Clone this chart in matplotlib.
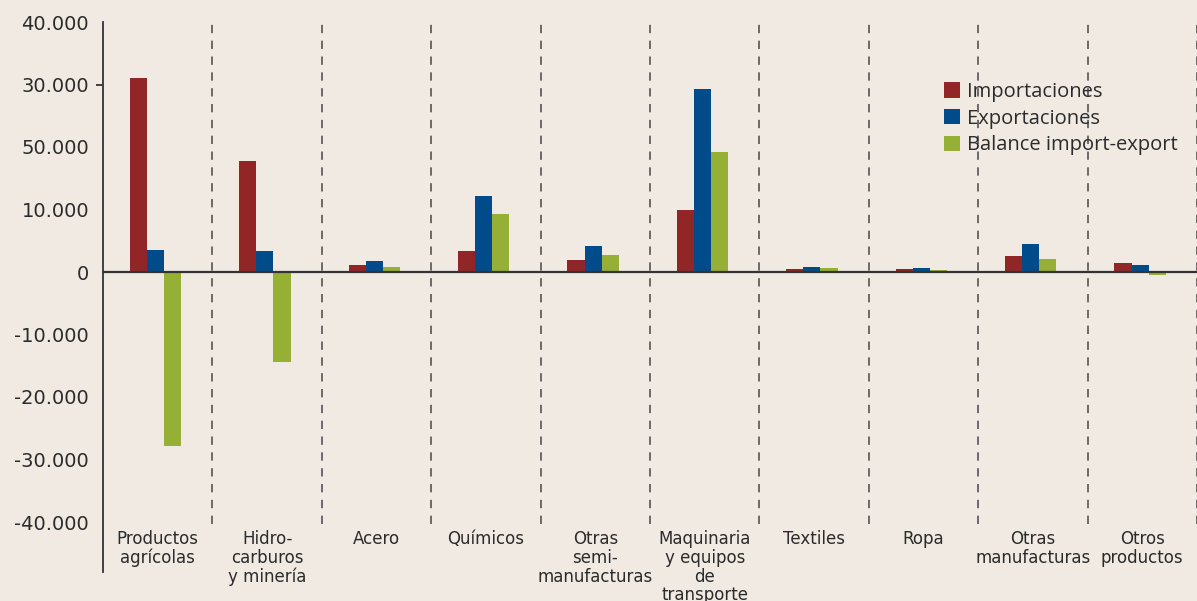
# Comercio por grupo de productos: importaciones, exportaciones y balance
import numpy as np
import matplotlib.pyplot as plt

categorias = [
    "Productos\nagrícolas",
    "Hidro-\ncarburos\ny minería",
    "Acero",
    "Químicos",
    "Otras\nsemi-\nmanufacturas",
    "Maquinaria\ny equipos\nde\ntransporte",
    "Textiles",
    "Ropa",
    "Otras\nmanufacturas",
    "Otros\nproductos",
]
importaciones = [31000, 17700, 1100, 3350, 1900, 9900, 480, 480, 2550, 1450]
exportaciones = [3500, 3350, 1750, 12150, 4150, 29250, 800, 640, 4450, 1100]
balance = [-27800, -14350, 800, 9250, 2700, 19200, 640, 320, 2050, -500]

yticks = [40000, 30000, 20000, 10000, 0, -10000, -20000, -30000, -40000]
ytick_labels = ["40.000", "30.000", "50.000", "10.000", "0",
                "-10.000", "-20.000", "-30.000", "-40.000"]

fondo = "#F0EAE3"
texto = "#2B2B2B"
colores = ["#922626", "#004C8A", "#95B034"]

fig = plt.figure(figsize=(11.97, 6.01), dpi=100, facecolor=fondo)
ax = fig.add_axes([103 / 1197, 1 - 572 / 601, 1 - 103 / 1197, 550 / 601])
ax.set_facecolor(fondo)

x = np.arange(len(categorias))
ancho = 0.157
series = [importaciones, exportaciones, balance]
nombres = ["Importaciones", "Exportaciones", "Balance import-export"]
for i, (vals, nom, col) in enumerate(zip(series, nombres, colores)):
    ax.bar(x + (i - 1) * ancho - 0.02, vals, ancho, color=col, label=nom, zorder=3)

# separadores punteados
ax.vlines(x + 0.5, -40300, 40300, colors="#555555", linestyles=(0, (5, 4.5)),
          linewidth=1.2, zorder=1)
ax.axhline(0, color="#333333", linewidth=1.6, zorder=4)

ax.set_xlim(-0.5, len(categorias) - 0.5)
ax.set_ylim(-48000, 40000)
ax.set_xticks([])
ax.set_yticks(yticks)
ax.set_yticklabels(ytick_labels, fontsize=14, color=texto, family="DejaVu Sans")
ax.tick_params(axis="y", length=5, width=1.3, color="#333333", pad=5)
for t, v in zip(ax.yaxis.get_major_ticks(), yticks):
    if v != 30000:
        t.tick1line.set_visible(False)

for lado in ["top", "right", "bottom"]:
    ax.spines[lado].set_visible(False)
ax.spines["left"].set_color("#333333")
ax.spines["left"].set_linewidth(1.3)

# etiquetas de categorías
for xi, cat in zip(x, categorias):
    ax.text(xi, -41300, cat, ha="center", va="top", fontsize=12, color=texto,
            family="DejaVu Sans", linespacing=1.05)

fig.legend(loc="upper left", bbox_to_anchor=(936 / 1197, 1 - 74 / 601),
           frameon=False, handlelength=0.8, handleheight=0.8,
           handletextpad=0.35, labelspacing=0.33, borderaxespad=0,
           prop={"family": "Open Sans", "size": 14.5})
for t in fig.legends[0].get_texts():
    t.set_color(texto)

fig.savefig("out.png", dpi=100, facecolor=fondo)
